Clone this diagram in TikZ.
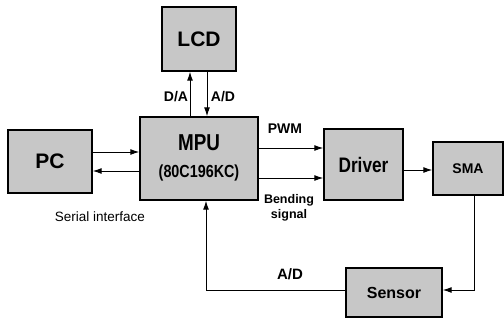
\documentclass[tikz,border=0pt]{standalone}
\usepackage{fontspec}
\setmainfont{Liberation Sans}
\newfontfamily\condfont[FakeStretch=0.82]{Liberation Sans}
\usetikzlibrary{arrows.meta}
\begin{document}
\begin{tikzpicture}[x=1pt,y=-1pt,
  blk/.style={draw=black,line width=1.4pt,fill=black!22,inner sep=0pt,font=\bfseries},
  conn/.style={line width=1pt,-{Latex[length=9pt,width=6pt]}},
  lbl/.style={inner sep=0pt,font=\bfseries\fontsize{13}{15}\selectfont}]
\useasboundingbox (0,0) rectangle (504,327);
\node[blk,minimum width=74pt,minimum height=64pt,font=\bfseries\fontsize{21}{23}\selectfont] (lcd) at (199,39) {LCD};
\node[blk,minimum width=118pt,minimum height=83pt] (mpu) at (199,158.5) {};
\node[inner sep=0pt,font=\condfont\bfseries\fontsize{23}{25}\selectfont] (mputxt) at (199,143) {MPU};
\node[inner sep=0pt,font=\condfont\bfseries\fontsize{17.5}{19}\selectfont] (mpusub) at (199,173) {(80C196KC)};
\node[blk,minimum width=84pt,minimum height=63pt,font=\bfseries\fontsize{21}{23}\selectfont] (pc) at (50,161.5) {PC};
\node[blk,minimum width=79pt,minimum height=71pt,font=\condfont\bfseries\fontsize{21}{23}\selectfont] (drv) at (363.5,164.5) {Driver};
\node[blk,minimum width=70pt,minimum height=53pt,font=\bfseries\fontsize{14}{16}\selectfont] (sma) at (468,168.5) {SMA};
\node[blk,minimum width=96pt,minimum height=49pt,font=\bfseries\fontsize{16}{18}\selectfont] (sen) at (394,292.5) {Sensor};
% helper coordinates
\coordinate (xda) at (190,0);
\coordinate (xad) at (207,0);
\coordinate (xfb) at (206,0);
\coordinate (xsma) at (474,0);
\coordinate (y1) at (0,152);
\coordinate (y2) at (0,171);
\coordinate (y3) at (0,148);
\coordinate (y4) at (0,178);
\coordinate (y5) at (0,170);
\coordinate (y6) at (0,290);
% connectors
\draw[conn] (mpu.north -| xda) -- (lcd.south -| xda);
\draw[conn] (lcd.south -| xad) -- (mpu.north -| xad);
\draw[conn] (pc.east |- y1) -- (mpu.west |- y1);
\draw[conn] (mpu.west |- y2) -- (pc.east |- y2);
\draw[conn] (mpu.east |- y3) -- (drv.west |- y3);
\draw[conn] (mpu.east |- y4) -- (drv.west |- y4);
\draw[conn] (drv.east |- y5) -- (sma.west |- y5);
\draw[conn] (sma.south -| xsma) -- (xsma |- y6) -- (sen.east |- y6);
\draw[conn] (sen.west |- y6) -- (xfb |- y6) -- (mpu.south -| xfb);
% labels
\node[lbl,font=\bfseries\fontsize{14}{16}\selectfont] (lda) at (176,97) {D/A};
\node[lbl,font=\bfseries\fontsize{14}{16}\selectfont] (lad) at (223,97) {A/D};
\node[lbl,font=\bfseries\fontsize{14}{16}\selectfont] (lpwm) at (285,129) {PWM};
\node[lbl,font=\bfseries\fontsize{12.5}{15}\selectfont,align=center] (lbend) at (289,208) {Bending\\signal};
\node[inner sep=0pt,font=\fontsize{13.5}{15}\selectfont] (lser) at (100,217) {Serial interface};
\node[lbl,font=\bfseries\fontsize{15}{17}\selectfont] (lad2) at (290,274) {A/D};
\end{tikzpicture}
\end{document}
